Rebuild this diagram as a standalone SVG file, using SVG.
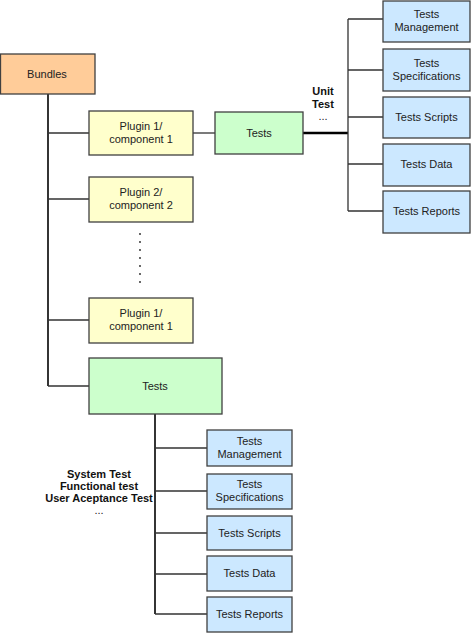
<svg xmlns="http://www.w3.org/2000/svg" width="471" height="634" viewBox="0 0 471 634">
<style>
.box{stroke:#404040;stroke-width:1.3}
.or{fill:#FFCC99}.ye{fill:#FFFFCC}.gr{fill:#CCFFCC}.bl{fill:#CCE8FF}
text{font-family:"Liberation Sans",Arial,sans-serif;font-size:11px;fill:#222;text-anchor:middle}
.b{font-weight:bold;fill:#111}
.ln{stroke:#333;stroke-width:1.3;fill:none}
.dk{stroke:#111;stroke-width:1.7;fill:none}
.thick{stroke:#000;stroke-width:2.4;fill:none}
</style>
<rect width="471" height="634" fill="#fff"/>
<g id="connectors">
<path class="dk" d="M48 94V386"/>
<path class="ln" d="M48 133H89M48 199H89M48 320H89M48 386H89"/>
<path class="ln" d="M193 133H215"/>
<path class="thick" d="M303 133H348"/>
<path class="ln" d="M348 19V211M348 19H383M348 70H383M348 117H383M348 164H383M348 211H383"/>
<path class="dk" d="M155 414V614"/>
<path class="ln" d="M155 448H207M155 491H207M155 533H207M155 574H207M155 614H207"/>
<g fill="#222"><circle cx="140" cy="234" r="0.9"/><circle cx="140" cy="242" r="0.9"/><circle cx="140" cy="250" r="0.9"/><circle cx="140" cy="258" r="0.9"/><circle cx="140" cy="266" r="0.9"/><circle cx="140" cy="274" r="0.9"/><circle cx="140" cy="282" r="0.9"/></g>
</g>
<g id="bundles"><rect class="box or" x="0.5" y="54" width="94.5" height="40"/><text x="47" y="78">Bundles</text></g>
<g id="plugin1"><rect class="box ye" x="89" y="111" width="104" height="44"/><text x="141" y="130">Plugin 1/</text><text x="141" y="143">component 1</text></g>
<g id="plugin2"><rect class="box ye" x="89" y="177" width="104" height="45"/><text x="141" y="196">Plugin 2/</text><text x="141" y="209">component 2</text></g>
<g id="plugin3"><rect class="box ye" x="89" y="298" width="104" height="45"/><text x="141" y="317">Plugin 1/</text><text x="141" y="330">component 1</text></g>
<g id="tests-unit"><rect class="box gr" x="215" y="112" width="88" height="42"/><text x="259" y="137">Tests</text></g>
<g id="tests-main"><rect class="box gr" x="89" y="358" width="133" height="56"/><text x="155" y="390">Tests</text></g>
<g id="unit-label"><text class="b" x="323" y="95">Unit</text><text class="b" x="323" y="108">Test</text><text x="323" y="120">...</text></g>
<g id="u-mgmt"><rect class="box bl" x="383" y="1" width="87" height="41"/><text x="426.5" y="18">Tests</text><text x="426.5" y="31">Management</text></g>
<g id="u-spec"><rect class="box bl" x="383" y="49" width="87" height="42"/><text x="426.5" y="67">Tests</text><text x="426.5" y="80">Specifications</text></g>
<g id="u-scripts"><rect class="box bl" x="383" y="97" width="87" height="41"/><text x="426.5" y="121">Tests Scripts</text></g>
<g id="u-data"><rect class="box bl" x="383" y="144" width="87" height="42"/><text x="426.5" y="168">Tests Data</text></g>
<g id="u-reports"><rect class="box bl" x="383" y="191" width="87" height="42"/><text x="426.5" y="215">Tests Reports</text></g>
<g id="sys-label"><text class="b" x="99" y="478">System Test</text><text class="b" x="99" y="490">Functional test</text><text class="b" x="99" y="502">User Aceptance Test</text><text x="99" y="514">...</text></g>
<g id="s-mgmt"><rect class="box bl" x="207" y="430" width="85" height="36"/><text x="249.5" y="445">Tests</text><text x="249.5" y="458">Management</text></g>
<g id="s-spec"><rect class="box bl" x="207" y="474" width="85" height="35"/><text x="249.5" y="488">Tests</text><text x="249.5" y="501">Specifications</text></g>
<g id="s-scripts"><rect class="box bl" x="207" y="516" width="85" height="34"/><text x="249.5" y="537">Tests Scripts</text></g>
<g id="s-data"><rect class="box bl" x="207" y="556" width="85" height="35"/><text x="249.5" y="577">Tests Data</text></g>
<g id="s-reports"><rect class="box bl" x="207" y="597" width="85" height="35"/><text x="249.5" y="618">Tests Reports</text></g>
</svg>
